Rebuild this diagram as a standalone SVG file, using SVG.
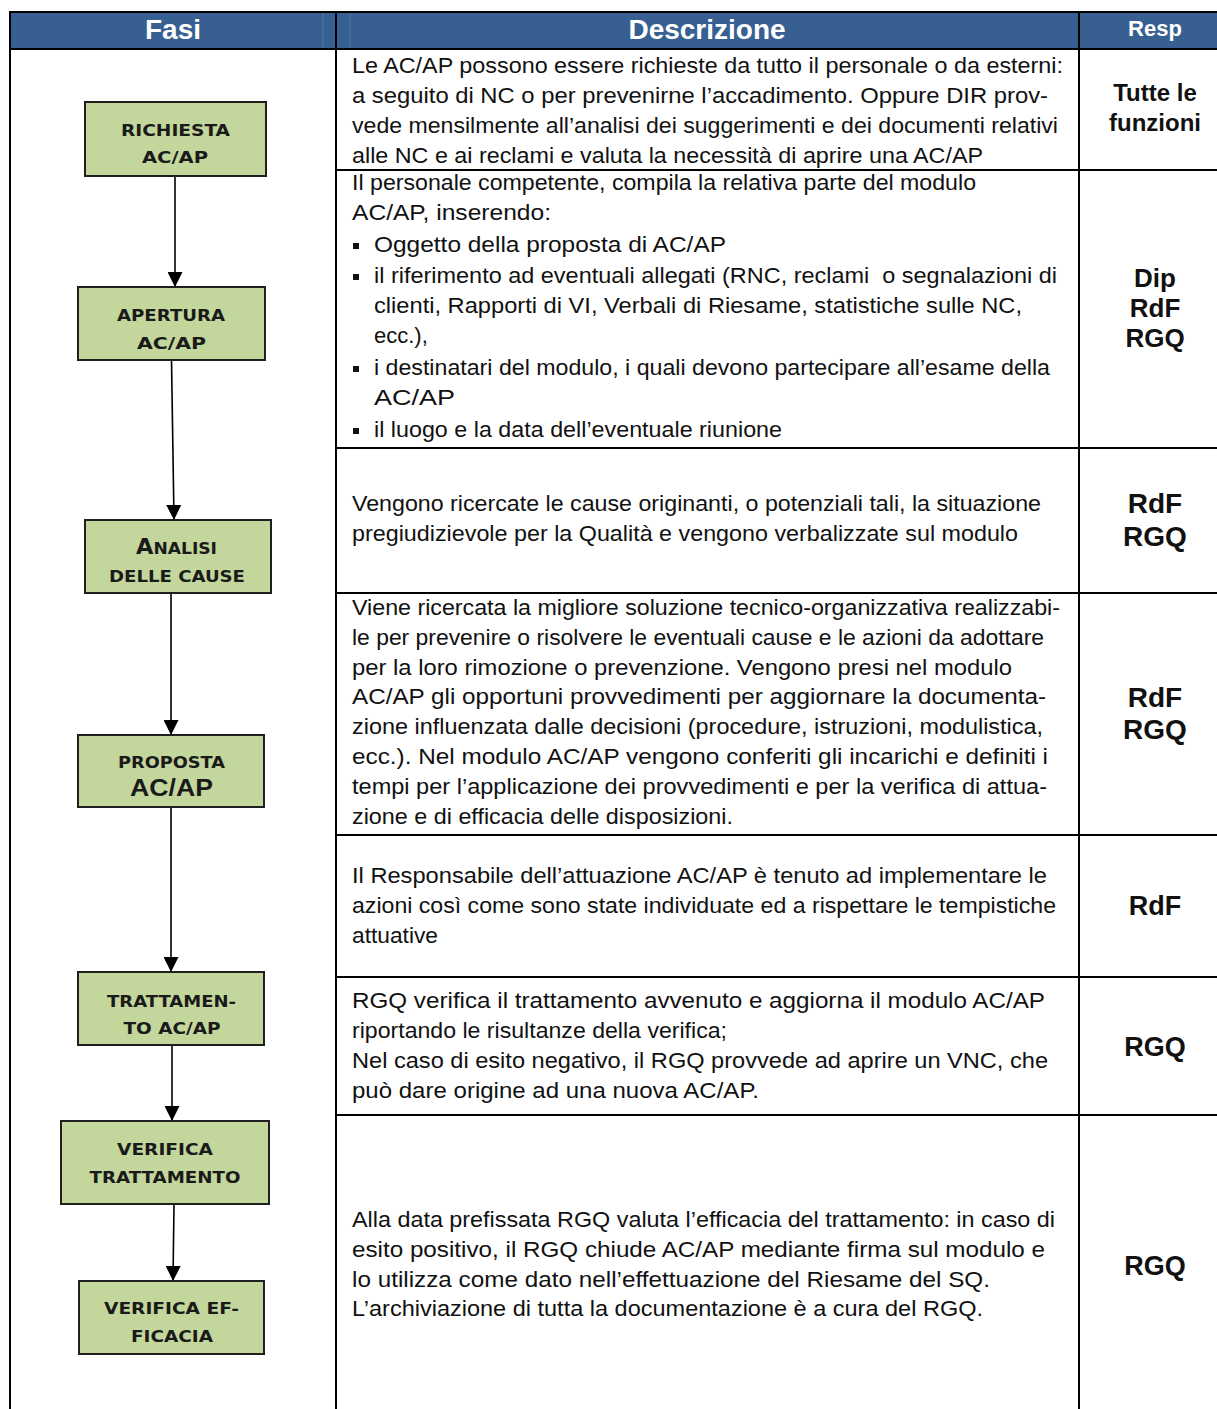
<svg xmlns="http://www.w3.org/2000/svg" width="1217" height="1409" viewBox="0 0 1217 1409">
<style>
.hd{font-family:"Liberation Sans",Arial,sans-serif;font-weight:bold;fill:#ffffff;text-anchor:middle}
.d{font-family:"Liberation Sans",Arial,sans-serif;font-size:22px;fill:#111111}
.r{font-family:"Liberation Sans",Arial,sans-serif;font-weight:bold;fill:#111111;text-anchor:middle}
.n rect{fill:#c3d69b;stroke:#1f1f1f;stroke-width:2}
.n text{font-family:"DejaVu Sans",Verdana,sans-serif;font-weight:bold;font-size:16px;fill:#1a1a1a;text-anchor:middle}
.grid line{stroke:#000;stroke-width:2}
.conn path{stroke:#000;stroke-width:1.6;fill:none;marker-end:url(#arr)}
</style>
<defs>
<marker id="arr" viewBox="0 0 10 10" refX="10" refY="5" markerUnits="userSpaceOnUse" markerWidth="15" markerHeight="15" orient="auto">
<path d="M0,0 L10,5 L0,10 z" fill="#000"/>
</marker>
</defs>
<rect x="0" y="0" width="1217" height="1409" fill="#ffffff"/>
<!-- header -->
<rect x="10" y="12" width="1207" height="37" fill="#375f91"/>
<line x1="323" y1="13" x2="323" y2="48" stroke="#5479a6" stroke-width="1"/>
<line x1="350" y1="13" x2="350" y2="48" stroke="#5479a6" stroke-width="1"/>
<text class="hd" x="173" y="39" font-size="28">Fasi</text>
<text class="hd" x="707" y="39" font-size="28">Descrizione</text>
<text class="hd" x="1155" y="36" font-size="22">Resp</text>
<!-- grid -->
<g class="grid">
<line x1="9" y1="12" x2="1217" y2="12"/>
<line x1="10" y1="49" x2="1217" y2="49"/>
<line x1="10" y1="11" x2="10" y2="1409"/>
<line x1="336" y1="11" x2="336" y2="1409"/>
<line x1="1079" y1="11" x2="1079" y2="1409"/>
<line x1="336" y1="170" x2="1217" y2="170"/>
<line x1="336" y1="448" x2="1217" y2="448"/>
<line x1="336" y1="593" x2="1217" y2="593"/>
<line x1="336" y1="835" x2="1217" y2="835"/>
<line x1="336" y1="977" x2="1217" y2="977"/>
<line x1="336" y1="1115" x2="1217" y2="1115"/>
</g>
<!-- connectors -->
<g id="connectors" class="conn">
<path d="M175,176 L175,287"/>
<path d="M171.5,360 L174,520"/>
<path d="M171,593 L171,735"/>
<path d="M171,807 L171,972"/>
<path d="M172,1045 L172,1121"/>
<path d="M174,1204 L173,1281"/>
</g>
<!-- nodes -->
<g id="n1" class="n">
<rect x="85" y="102" width="181" height="74"/>
<text x="175.5" y="136" textLength="109" lengthAdjust="spacingAndGlyphs">RICHIESTA</text>
<text x="175" y="163" textLength="66" lengthAdjust="spacingAndGlyphs">AC/AP</text>
</g>
<g id="n2" class="n">
<rect x="78" y="287" width="187" height="73"/>
<text x="171" y="321" textLength="108" lengthAdjust="spacingAndGlyphs">APERTURA</text>
<text x="171.5" y="349" textLength="69" lengthAdjust="spacingAndGlyphs">AC/AP</text>
</g>
<g id="n3" class="n">
<rect x="85" y="520" width="186" height="73"/>
<text x="176.5" y="554" textLength="81" lengthAdjust="spacingAndGlyphs"><tspan font-size="21" style="font-size:21px">A</tspan>NALISI</text>
<text x="177" y="582" textLength="136" lengthAdjust="spacingAndGlyphs">DELLE CAUSE</text>
</g>
<g id="n4" class="n">
<rect x="78" y="735" width="186" height="72"/>
<text x="171.5" y="768" textLength="107" lengthAdjust="spacingAndGlyphs">PROPOSTA</text>
<text x="171.5" y="796" style="font-size:24px;font-family:'Liberation Sans',Arial,sans-serif" textLength="83" lengthAdjust="spacingAndGlyphs">AC/AP</text>
</g>
<g id="n5" class="n">
<rect x="78" y="972" width="186" height="73"/>
<text x="171.5" y="1007" textLength="129" lengthAdjust="spacingAndGlyphs">TRATTAMEN-</text>
<text x="172" y="1034" textLength="97" lengthAdjust="spacingAndGlyphs">TO AC/AP</text>
</g>
<g id="n6" class="n">
<rect x="61" y="1121" width="208" height="83"/>
<text x="165" y="1155" textLength="96" lengthAdjust="spacingAndGlyphs">VERIFICA</text>
<text x="165" y="1183" textLength="151" lengthAdjust="spacingAndGlyphs">TRATTAMENTO</text>
</g>
<g id="n7" class="n">
<rect x="79" y="1281" width="185" height="73"/>
<text x="171.5" y="1314" textLength="135" lengthAdjust="spacingAndGlyphs">VERIFICA EF-</text>
<text x="172" y="1342" textLength="82" lengthAdjust="spacingAndGlyphs">FICACIA</text>
</g>
<!-- descriptions -->
<g id="desc1">
<text class="d" x="352" y="73" textLength="711" lengthAdjust="spacingAndGlyphs">Le AC/AP possono essere richieste da tutto il personale o da esterni:</text>
<text class="d" x="352" y="103" textLength="696" lengthAdjust="spacingAndGlyphs">a seguito di NC o per prevenirne l’accadimento. Oppure DIR prov-</text>
<text class="d" x="352" y="133" textLength="706" lengthAdjust="spacingAndGlyphs">vede mensilmente all’analisi dei suggerimenti e dei documenti relativi</text>
<text class="d" x="352" y="163" textLength="631" lengthAdjust="spacingAndGlyphs">alle NC e ai reclami e valuta la necessità di aprire una AC/AP</text>
</g>
<g id="desc2">
<text class="d" x="352" y="190" textLength="624" lengthAdjust="spacingAndGlyphs">Il personale competente, compila la relativa parte del modulo</text>
<text class="d" x="352" y="220" textLength="199" lengthAdjust="spacingAndGlyphs">AC/AP, inserendo:</text>
<rect x="353" y="243" width="6" height="6" fill="#111"/>
<text class="d" x="374" y="252" textLength="352" lengthAdjust="spacingAndGlyphs">Oggetto della proposta di AC/AP</text>
<rect x="353" y="274" width="6" height="6" fill="#111"/>
<text class="d" x="374" y="283" textLength="683" lengthAdjust="spacingAndGlyphs">il riferimento ad eventuali allegati (RNC, reclami &#160;o segnalazioni di</text>
<text class="d" x="374" y="313" textLength="648" lengthAdjust="spacingAndGlyphs">clienti, Rapporti di VI, Verbali di Riesame, statistiche sulle NC,</text>
<text class="d" x="374" y="343">ecc.),</text>
<rect x="353" y="366" width="6" height="6" fill="#111"/>
<text class="d" x="374" y="375" textLength="676" lengthAdjust="spacingAndGlyphs">i destinatari del modulo, i quali devono partecipare all’esame della</text>
<text class="d" x="374" y="405" textLength="81" lengthAdjust="spacingAndGlyphs">AC/AP</text>
<rect x="353" y="428" width="6" height="6" fill="#111"/>
<text class="d" x="374" y="437" textLength="408" lengthAdjust="spacingAndGlyphs">il luogo e la data dell’eventuale riunione</text>
</g>
<g id="desc3">
<text class="d" x="352" y="511" textLength="689" lengthAdjust="spacingAndGlyphs">Vengono ricercate le cause originanti, o potenziali tali, la situazione</text>
<text class="d" x="352" y="541" textLength="666" lengthAdjust="spacingAndGlyphs">pregiudizievole per la Qualità e vengono verbalizzate sul modulo</text>
</g>
<g id="desc4">
<text class="d" x="352" y="615" textLength="708" lengthAdjust="spacingAndGlyphs">Viene ricercata la migliore soluzione tecnico-organizzativa realizzabi-</text>
<text class="d" x="352" y="645" textLength="692" lengthAdjust="spacingAndGlyphs">le per prevenire o risolvere le eventuali cause e le azioni da adottare</text>
<text class="d" x="352" y="675" textLength="660" lengthAdjust="spacingAndGlyphs">per la loro rimozione o prevenzione. Vengono presi nel modulo</text>
<text class="d" x="352" y="704" textLength="694" lengthAdjust="spacingAndGlyphs">AC/AP gli opportuni provvedimenti per aggiornare la documenta-</text>
<text class="d" x="352" y="734" textLength="691" lengthAdjust="spacingAndGlyphs">zione influenzata dalle decisioni (procedure, istruzioni, modulistica,</text>
<text class="d" x="352" y="764" textLength="696" lengthAdjust="spacingAndGlyphs">ecc.). Nel modulo AC/AP vengono conferiti gli incarichi e definiti i</text>
<text class="d" x="352" y="794" textLength="695" lengthAdjust="spacingAndGlyphs">tempi per l’applicazione dei provvedimenti e per la verifica di attua-</text>
<text class="d" x="352" y="824" textLength="381" lengthAdjust="spacingAndGlyphs">zione e di efficacia delle disposizioni.</text>
</g>
<g id="desc5">
<text class="d" x="352" y="883" textLength="695" lengthAdjust="spacingAndGlyphs">Il Responsabile dell’attuazione AC/AP è tenuto ad implementare le</text>
<text class="d" x="352" y="913" textLength="704" lengthAdjust="spacingAndGlyphs">azioni così come sono state individuate ed a rispettare le tempistiche</text>
<text class="d" x="352" y="943" textLength="86" lengthAdjust="spacingAndGlyphs">attuative</text>
</g>
<g id="desc6">
<text class="d" x="352" y="1008" textLength="693" lengthAdjust="spacingAndGlyphs">RGQ verifica il trattamento avvenuto e aggiorna il modulo AC/AP</text>
<text class="d" x="352" y="1038" textLength="375" lengthAdjust="spacingAndGlyphs">riportando le risultanze della verifica;</text>
<text class="d" x="352" y="1068" textLength="696" lengthAdjust="spacingAndGlyphs">Nel caso di esito negativo, il RGQ provvede ad aprire un VNC, che</text>
<text class="d" x="352" y="1098" textLength="407" lengthAdjust="spacingAndGlyphs">può dare origine ad una nuova AC/AP.</text>
</g>
<g id="desc7">
<text class="d" x="352" y="1227" textLength="703" lengthAdjust="spacingAndGlyphs">Alla data prefissata RGQ valuta l’efficacia del trattamento: in caso di</text>
<text class="d" x="352" y="1257" textLength="693" lengthAdjust="spacingAndGlyphs">esito positivo, il RGQ chiude AC/AP mediante firma sul modulo e</text>
<text class="d" x="352" y="1287" textLength="638" lengthAdjust="spacingAndGlyphs">lo utilizza come dato nell’effettuazione del Riesame del SQ.</text>
<text class="d" x="352" y="1316" textLength="631" lengthAdjust="spacingAndGlyphs">L’archiviazione di tutta la documentazione è a cura del RGQ.</text>
</g>
<!-- responsibilities -->
<g id="resp">
<text class="r" x="1155" y="101" font-size="24">Tutte le</text>
<text class="r" x="1155" y="131" font-size="24">funzioni</text>
<text class="r" x="1155" y="287" font-size="26">Dip</text>
<text class="r" x="1155" y="317" font-size="26">RdF</text>
<text class="r" x="1155" y="347" font-size="26">RGQ</text>
<text class="r" x="1155" y="513" font-size="28">RdF</text>
<text class="r" x="1155" y="546" font-size="28">RGQ</text>
<text class="r" x="1155" y="707" font-size="28">RdF</text>
<text class="r" x="1155" y="739" font-size="28">RGQ</text>
<text class="r" x="1155" y="915" font-size="27">RdF</text>
<text class="r" x="1155" y="1056" font-size="27">RGQ</text>
<text class="r" x="1155" y="1275" font-size="27">RGQ</text>
</g>
</svg>
